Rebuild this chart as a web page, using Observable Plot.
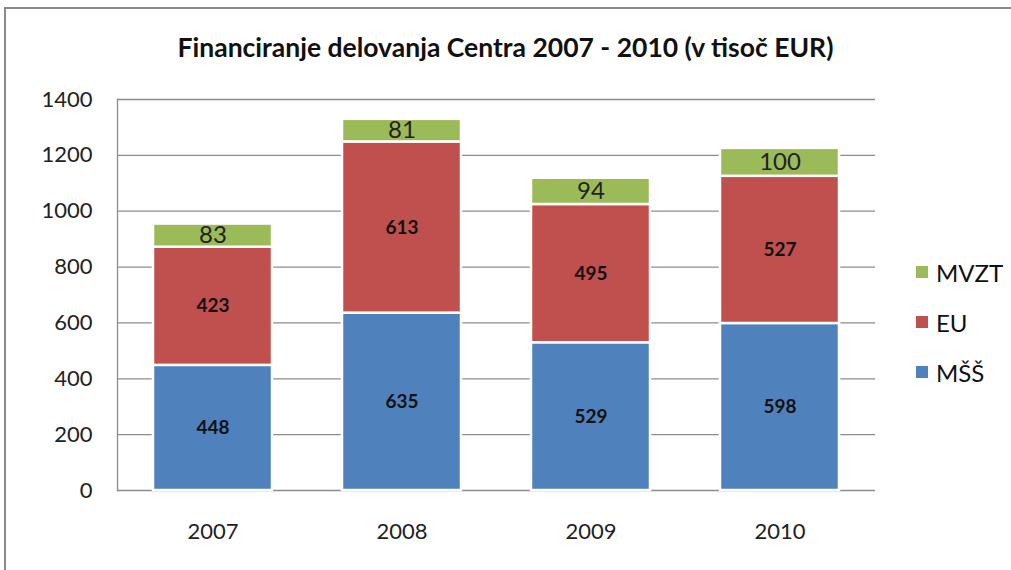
<!DOCTYPE html>
<html>
<head>
<meta charset="utf-8">
<script src="https://cdn.jsdelivr.net/npm/d3@7"></script>
<script src="https://cdn.jsdelivr.net/npm/@observablehq/plot@0.6"></script>
<style>
  html, body { margin: 0; padding: 0; background: #fff; }
  #frame { position: relative; width: 1011px; height: 570px; overflow: hidden; font-family: Lato, "Open Sans", sans-serif; }
  #border { position: absolute; left: 4px; top: 7px; width: 1100px; height: 700px; border-top: 2px solid #8a8a8a; border-left: 2px solid #8a8a8a; }
  #title { position: absolute; left: 0; top: 31px; width: 1011px; text-align: center; font-size: 26.5px; font-weight: bold; color: #111; }
  #chart { position: absolute; left: 0; top: 75px; }
  #legend { position: absolute; left: 916px; top: 247px; font-size: 24px; color: #111; }
  .item { display: flex; align-items: center; height: 50px; }
  .sw { width: 12px; height: 12px; margin-right: 8px; }
</style>
</head>
<body>
<div id="frame">
  <div id="border"></div>
  <div id="title">Financiranje delovanja Centra 2007 - 2010 (v tisoč EUR)</div>
  <div id="chart"></div>
  <div id="legend"></div>
</div>
<script>
const years = ["2007", "2008", "2009", "2010"];
const series = ["MŠŠ", "EU", "MVZT"];
const colors = ["#4F81BD", "#C0504D", "#9BBB59"];
const mss = [448, 635, 529, 598];
const eu = [423, 613, 495, 527];
const mvzt = [83, 81, 94, 100];
const yTicks = [0, 200, 400, 600, 800, 1000, 1200, 1400];

const values = [mss, eu, mvzt];
const data = [];
series.forEach((s, i) => years.forEach((y, j) => data.push({year: y, series: s, value: values[i][j]})));

const stackOpts = {x: "year", y: "value", z: "series", order: series};

const chart = Plot.plot({
  width: 1011,
  height: 495,
  marginLeft: 117,
  marginRight: 136,
  marginTop: 24,
  marginBottom: 80,
  style: {fontFamily: "Lato, 'Open Sans', sans-serif", fontSize: "22px", color: "#222", background: "transparent"},
  x: {domain: years, paddingInner: 0.37, paddingOuter: 0.185, label: null, tickSize: 0, tickPadding: 33},
  y: {domain: [0, 1400], ticks: yTicks, label: null, tickSize: 0, tickPadding: 25, tickFormat: d => String(d)},
  color: {domain: series, range: colors},
  marks: [
    Plot.gridY(yTicks, {stroke: "#8c8c8c", strokeOpacity: 1, strokeWidth: 1.3}),
    Plot.frame({anchor: "left", stroke: "#8c8c8c", strokeWidth: 1.3}),
    Plot.barY(data, Plot.stackY({...stackOpts, fill: "series", stroke: "white", strokeWidth: 2.5,
      style: "filter: drop-shadow(1px 1px 1.5px rgba(0,0,0,0.25))"})),
    Plot.textY(data, Plot.stackY({...stackOpts, text: d => d.series !== "MVZT" ? String(d.value) : "",
      fontWeight: "bold", fontSize: 19, fill: "#111"})),
    Plot.textY(data, Plot.stackY({...stackOpts, text: d => d.series === "MVZT" ? String(d.value) : "",
      fontSize: 24, fill: "#222"}))
  ]
});
document.getElementById("chart").appendChild(chart);

const legend = document.getElementById("legend");
[2, 1, 0].forEach(i => {
  const it = document.createElement("div");
  it.className = "item";
  it.innerHTML = `<div class="sw" style="background:${colors[i]}"></div><span>${series[i]}</span>`;
  legend.appendChild(it);
});
</script>
</body>
</html>
